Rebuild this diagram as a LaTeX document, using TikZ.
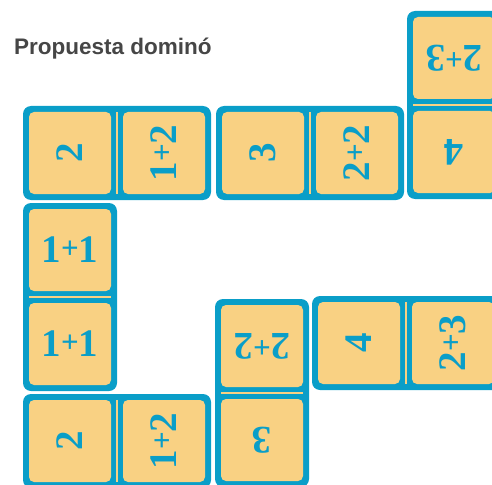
\documentclass[tikz,border=0pt]{standalone}
\usepackage{fontspec}
\setmainfont{Liberation Serif}
\newfontfamily\titlefont{Liberation Sans}
\definecolor{domblue}{RGB}{10,158,200}
\definecolor{domyel}{RGB}{249,209,131}
\definecolor{titlegray}{RGB}{70,70,70}
\newcommand\domplus{\raisebox{4.5pt}{\fontsize{31}{31}\selectfont+}}
\tikzset{
  dom/.style={fill=domblue, draw=none, rounded corners=8pt, inner sep=0pt},
  cell/.style={fill=domyel, draw=none, rounded corners=5pt, inner sep=0pt,
    minimum width=82pt, minimum height=82pt, text=domblue,
    font=\bfseries\fontsize{39}{39}\selectfont},
  divider/.style={draw=domyel, line width=1.6pt},
  titletext/.style={text=titlegray, inner sep=0pt,
    font=\titlefont\bfseries\fontsize{22.5}{24}\selectfont}
}
\newcommand\hdom[6]{%
  \node[dom, minimum width=188pt, minimum height=94pt] (#1) at ({#2+94},{-#3-47}) {};
  \node[cell, rotate=#6] (#1-a) at ([xshift=-47pt]#1.center) {#4};
  \node[cell, rotate=#6] (#1-b) at ([xshift=47pt]#1.center) {#5};
  \draw[divider] ([yshift=-6pt]#1.north) -- ([yshift=6pt]#1.south);
}
\newcommand\vdom[6]{%
  \node[dom, minimum width=94pt, minimum height=188pt] (#1) at ({#2+47},{-#3-94}) {};
  \node[cell, rotate=#6] (#1-a) at ([yshift=47pt]#1.center) {#4};
  \node[cell, rotate=#6] (#1-b) at ([yshift=-47pt]#1.center) {#5};
  \draw[divider] ([xshift=6pt]#1.west) -- ([xshift=-6pt]#1.east);
}
\begin{document}
\begin{tikzpicture}[x=1pt, y=1pt]
  \useasboundingbox (0,0) rectangle (492,-484);
  \clip (0,0) rectangle (492,-484);
  \node[titletext, anchor=base west] (title) at (14,-55) {Propuesta dominó};
  \vdom{d1}{407}{11}{2\domplus3}{4}{180}
  \hdom{d2}{23}{106}{2}{1\domplus2}{90}
  \hdom{d3}{216}{106}{3}{2\domplus2}{90}
  \vdom{d4}{23}{203}{1\domplus1}{1\domplus1}{0}
  \hdom{d5}{312}{296}{4}{2\domplus3}{90}
  \vdom{d6}{215}{299}{2\domplus2}{3}{180}
  \hdom{d7}{23}{394}{2}{1\domplus2}{90}
\end{tikzpicture}
\end{document}
